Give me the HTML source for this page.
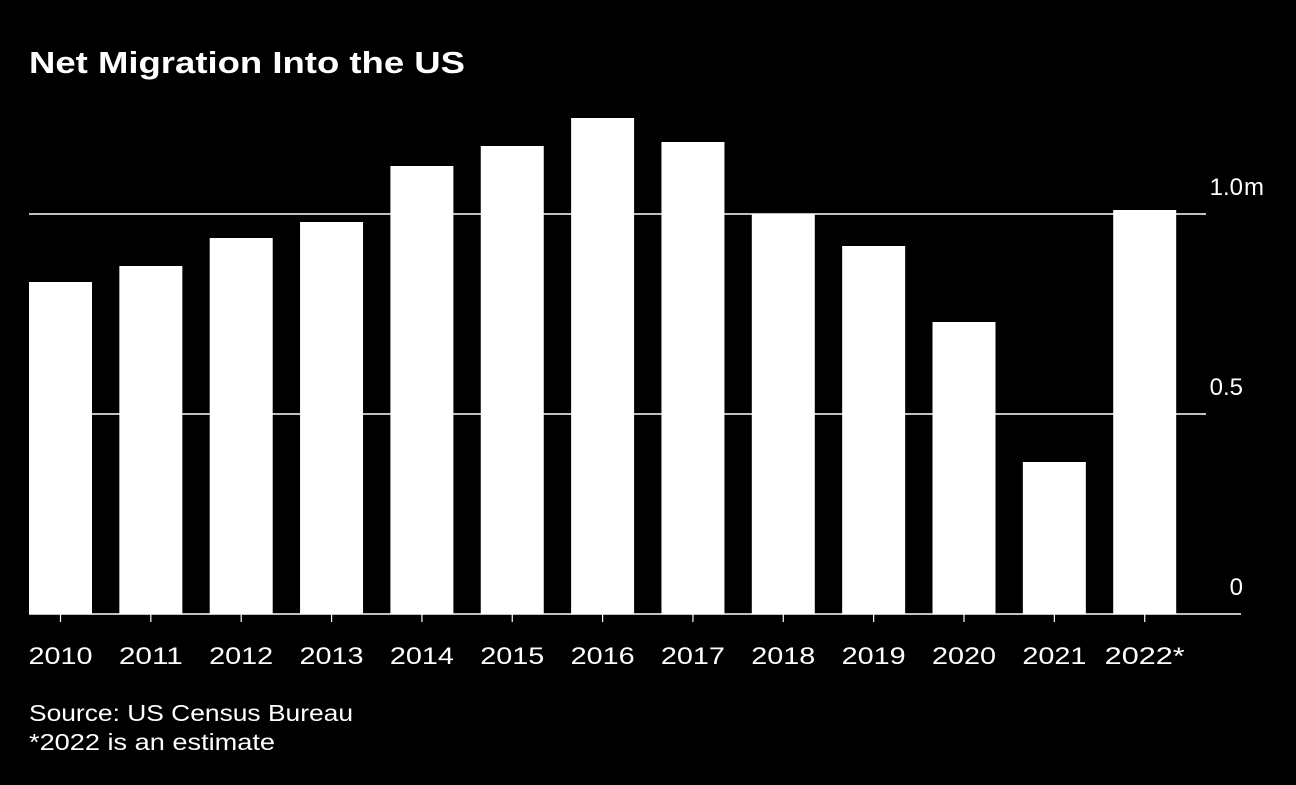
<!DOCTYPE html>
<html><head><meta charset="utf-8"><style>
body{margin:0;background:#000;width:1296px;height:780px;overflow:hidden;font-family:"Liberation Sans",sans-serif;color:#fff}
</style></head><body>
<svg width="1296" height="780">
<rect width="1296" height="780" fill="#000"/>
<text x="29" y="73" font-size="31" font-weight="bold" fill="#fff" textLength="436" lengthAdjust="spacingAndGlyphs">Net Migration Into the US</text>
<g id="grid"></g><g id="bars"></g><g id="xaxis"></g>
<text x="29" y="721" font-size="23" fill="#fff" textLength="324" lengthAdjust="spacingAndGlyphs">Source: US Census Bureau</text>
<text x="29" y="750" font-size="23" fill="#fff" textLength="246" lengthAdjust="spacingAndGlyphs">*2022 is an estimate</text>
</svg>
<script>
const categories=["2010","2011","2012","2013","2014","2015","2016","2017","2018","2019","2020","2021","2022*"];
const values=[0.83,0.87,0.94,0.98,1.12,1.17,1.24,1.18,1.0,0.92,0.73,0.38,1.01];
const ticks=[0,0.5,1.0];
const tickLabels=["0","0.5","1.0"];
const NS="http://www.w3.org/2000/svg";
const y=v=>614-v*400;
const x=i=>29+i*90.35;
const bw=63;
function mk(t,a,p){const e=document.createElementNS(NS,t);for(const k in a)e.setAttribute(k,a[k]);p.appendChild(e);return e;}
const g=document.getElementById('grid'),b=document.getElementById('bars'),xa=document.getElementById('xaxis');
ticks.forEach((t,i)=>{
 if(t>0){const l=mk('line',{x1:29,x2:1206,y1:y(t),y2:y(t),stroke:'#fff','stroke-width':1.5},g);
 
 }
 const tx=mk('text',{x:1243,y:y(t)-19,'font-size':24,'text-anchor':'end',fill:'#fff'},g);
 tx.textContent=tickLabels[i];
 
 
 if(i===ticks.length-1){const u=mk('text',{x:1244,y:y(t)-19,'font-size':24,fill:'#fff'},g);
 u.textContent='m';
 
 }
});
values.forEach((v,i)=>{
 const r=mk('rect',{x:x(i),y:y(v),width:bw,height:y(0)-y(v),fill:'#fff'},b);
 
 
 const tk=mk('line',{x1:x(i)+bw/2,x2:x(i)+bw/2,y1:614,y2:622,stroke:'#fff','stroke-width':1.2},xa);
 
 
 const len=categories[i].length>4?80:64;
 const t=mk('text',{x:x(i)+bw/2,y:664,'font-size':24,'text-anchor':'middle',fill:'#fff',textLength:len,lengthAdjust:'spacingAndGlyphs'},xa);
 t.textContent=categories[i];
 
 
});
const ax=mk('line',{x1:29,x2:1241,y1:614,y2:614,stroke:'#fff','stroke-width':1.5},xa);


</script>
</body></html>
